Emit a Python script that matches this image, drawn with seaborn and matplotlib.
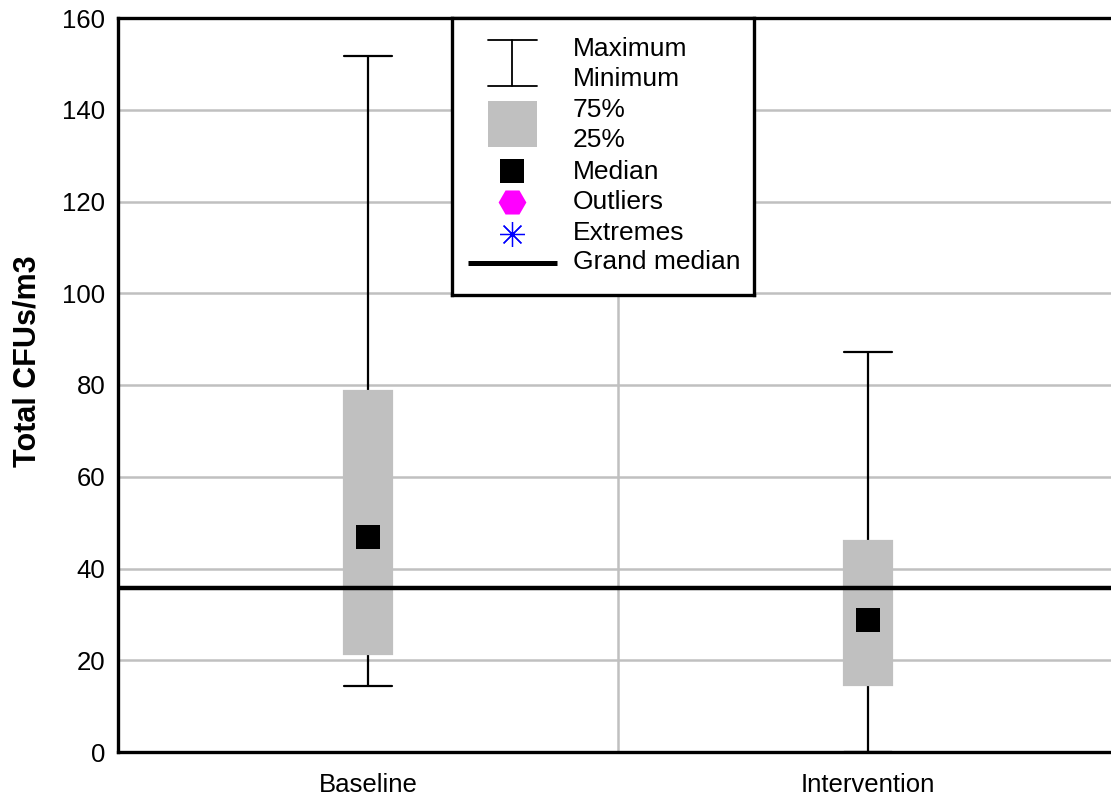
import matplotlib
matplotlib.use("Agg")
import matplotlib.pyplot as plt
import seaborn as sns
import pandas as pd
import numpy as np

# ---- data ----
categories = ["Baseline", "Intervention"]
minimum = [14.4, 0.0]
q1 = [21.4, 14.5]
median = [46.9, 28.8]
q3 = [78.7, 46.0]
maximum = [151.8, 87.3]
grand_median = 35.7
yticks = [0, 20, 40, 60, 80, 100, 120, 140, 160]
legend_labels = ["Maximum", "Minimum", "75%", "25%", "Median", "Outliers", "Extremes", "Grand median"]

# five-number data per group so that the box statistics equal the values above
rows = []
for c, a, b, m, d, e in zip(categories, minimum, q1, median, q3, maximum):
    for v in (a, b, m, d, e):
        rows.append({"group": c, "value": v})
df = pd.DataFrame(rows)
med_df = pd.DataFrame({"group": categories, "value": median})

sns.set_theme(style="white")
plt.rcParams["font.family"] = ["Liberation Sans", "DejaVu Sans"]

W, H = 1111, 796
fig = plt.figure(figsize=(W / 100, H / 100), dpi=100)
ax = fig.add_axes([118 / W, (H - 752) / H, 1000 / W, 734 / H])

BOXW = 0.097
sns.boxplot(data=df, x="group", y="value", order=categories, ax=ax,
            whis=(0, 100), width=BOXW, color="#c0c0c0", linecolor="black",
            linewidth=1.6, fill=True, showfliers=False,
            boxprops=dict(facecolor="#c0c0c0", edgecolor="#c0c0c0", zorder=3),
            whiskerprops=dict(color="black", linewidth=1.6, zorder=2),
            capprops=dict(color="black", linewidth=1.6, zorder=2),
            medianprops=dict(visible=False),
            capwidths=BOXW)

ax.axhline(grand_median, color="black", linewidth=3.2, zorder=4)

sns.scatterplot(data=med_df, x="group", y="value", ax=ax, marker="s", s=300,
                color="black", edgecolor="black", linewidth=0, zorder=5, legend=False)

ax.set_xlim(-0.5, 1.5)
ax.set_ylim(0, 160)
ax.set_yticks(yticks)
ax.set_yticklabels([str(t) for t in yticks])
ax.grid(False)
for t in yticks[1:-1]:
    ax.axhline(t, color="#c0c0c0", linewidth=1.8, zorder=0)
ax.axvline(0.5, color="#c0c0c0", linewidth=1.8, zorder=0)

for s in ["left", "bottom", "top", "right"]:
    ax.spines[s].set_visible(True)
    ax.spines[s].set_color("black")
    ax.spines[s].set_linewidth(2.4)

ax.tick_params(axis="y", length=0, pad=9, labelsize=18.5, colors="black")
ax.tick_params(axis="x", length=0, pad=15, labelsize=18.5, colors="black")
ax.set_xlabel("")
ax.set_ylabel("Total CFUs/m3", fontsize=22, fontweight="bold", color="black")
ax.yaxis.set_label_coords(-0.076, 0.533)

# ---- custom legend box (pixel coordinates) ----
lx0, lx1, ly0, ly1 = 452, 754, 18, 295
lax = fig.add_axes([lx0 / W, (H - ly1) / H, (lx1 - lx0) / W, (ly1 - ly0) / H])
lax.set_xlim(lx0, lx1)
lax.set_ylim(ly1, ly0)
lax.set_xticks([])
lax.set_yticks([])
lax.set_facecolor("white")
for s in lax.spines.values():
    s.set_linewidth(2.4)
    s.set_color("black")
    s.set_visible(True)

sx = 512
# whisker symbol
lax.plot([sx, sx], [40, 86], color="black", lw=1.3)
lax.plot([488, 537], [40, 40], color="black", lw=1.3)
lax.plot([488, 537], [86, 86], color="black", lw=1.3)
# grey box
lax.add_patch(plt.Rectangle((488, 101), 49, 46, facecolor="#c0c0c0", edgecolor="none"))
# median square
lax.plot([sx], [171], marker="s", ms=17, color="black", mec="black", mew=0)
# outliers hexagon
lax.plot([sx], [202], marker="H", ms=20, color="#ff00ff", mec="#ff00ff", mew=0)
# extremes asterisk (8 arms)
lax.plot([sx], [234], marker=(8, 2, 0), ms=18, color="blue", mew=0.9)
# grand median line
lax.plot([468, 557], [263, 263], color="black", lw=3.6, solid_capstyle="butt")

text_y = [49, 79, 110, 140, 172, 202, 233, 262]
for lab, y in zip(legend_labels, text_y):
    lax.text(573, y, lab, fontsize=19, va="center", ha="left", color="black")

fig.savefig("out.png", dpi=100)
